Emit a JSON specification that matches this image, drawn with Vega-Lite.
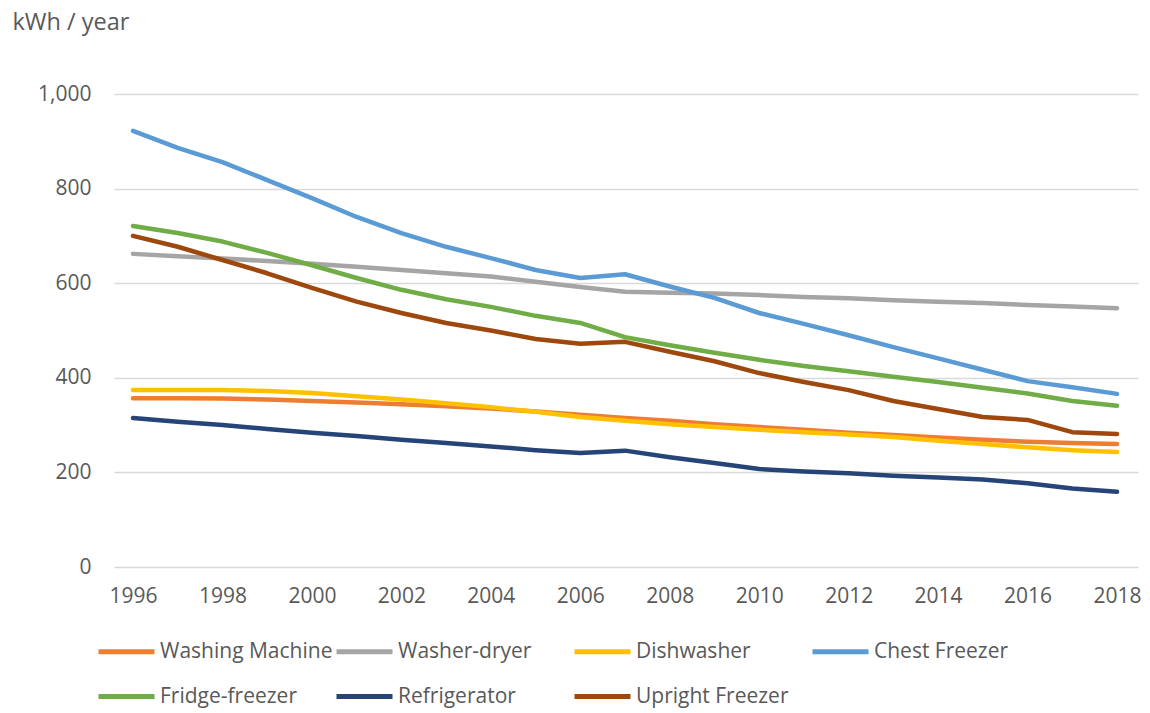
{
  "$schema": "https://vega.github.io/schema/vega-lite/v6.json",
  "width": 1024,
  "height": 473,
  "autosize": {"type": "none"},
  "padding": {"left": 114, "top": 94, "right": 12, "bottom": 146},
  "background": "white",
  "config": {
    "view": {"stroke": null},
    "font": "Open Sans"
  },
  "data": {
    "values": [
      {"series": "Washing Machine", "year": 1996, "value": 357}, {"series": "Washing Machine", "year": 1997, "value": 357}, {"series": "Washing Machine", "year": 1998, "value": 356}, {"series": "Washing Machine", "year": 1999, "value": 354}, {"series": "Washing Machine", "year": 2000, "value": 351}, {"series": "Washing Machine", "year": 2001, "value": 348}, {"series": "Washing Machine", "year": 2002, "value": 344}, {"series": "Washing Machine", "year": 2003, "value": 340}, {"series": "Washing Machine", "year": 2004, "value": 335}, {"series": "Washing Machine", "year": 2005, "value": 329}, {"series": "Washing Machine", "year": 2006, "value": 322}, {"series": "Washing Machine", "year": 2007, "value": 315}, {"series": "Washing Machine", "year": 2008, "value": 309}, {"series": "Washing Machine", "year": 2009, "value": 302}, {"series": "Washing Machine", "year": 2010, "value": 296}, {"series": "Washing Machine", "year": 2011, "value": 290}, {"series": "Washing Machine", "year": 2012, "value": 284}, {"series": "Washing Machine", "year": 2013, "value": 279}, {"series": "Washing Machine", "year": 2014, "value": 274}, {"series": "Washing Machine", "year": 2015, "value": 269}, {"series": "Washing Machine", "year": 2016, "value": 265}, {"series": "Washing Machine", "year": 2017, "value": 262}, {"series": "Washing Machine", "year": 2018, "value": 260},
      {"series": "Washer-dryer", "year": 1996, "value": 662}, {"series": "Washer-dryer", "year": 1997, "value": 657}, {"series": "Washer-dryer", "year": 1998, "value": 652}, {"series": "Washer-dryer", "year": 1999, "value": 647}, {"series": "Washer-dryer", "year": 2000, "value": 641}, {"series": "Washer-dryer", "year": 2001, "value": 635}, {"series": "Washer-dryer", "year": 2002, "value": 628}, {"series": "Washer-dryer", "year": 2003, "value": 621}, {"series": "Washer-dryer", "year": 2004, "value": 614}, {"series": "Washer-dryer", "year": 2005, "value": 603}, {"series": "Washer-dryer", "year": 2006, "value": 592}, {"series": "Washer-dryer", "year": 2007, "value": 582}, {"series": "Washer-dryer", "year": 2008, "value": 580}, {"series": "Washer-dryer", "year": 2009, "value": 578}, {"series": "Washer-dryer", "year": 2010, "value": 575}, {"series": "Washer-dryer", "year": 2011, "value": 571}, {"series": "Washer-dryer", "year": 2012, "value": 568}, {"series": "Washer-dryer", "year": 2013, "value": 564}, {"series": "Washer-dryer", "year": 2014, "value": 561}, {"series": "Washer-dryer", "year": 2015, "value": 558}, {"series": "Washer-dryer", "year": 2016, "value": 554}, {"series": "Washer-dryer", "year": 2017, "value": 551}, {"series": "Washer-dryer", "year": 2018, "value": 547},
      {"series": "Dishwasher", "year": 1996, "value": 374}, {"series": "Dishwasher", "year": 1997, "value": 374}, {"series": "Dishwasher", "year": 1998, "value": 374}, {"series": "Dishwasher", "year": 1999, "value": 372}, {"series": "Dishwasher", "year": 2000, "value": 368}, {"series": "Dishwasher", "year": 2001, "value": 361}, {"series": "Dishwasher", "year": 2002, "value": 354}, {"series": "Dishwasher", "year": 2003, "value": 346}, {"series": "Dishwasher", "year": 2004, "value": 338}, {"series": "Dishwasher", "year": 2005, "value": 328}, {"series": "Dishwasher", "year": 2006, "value": 317}, {"series": "Dishwasher", "year": 2007, "value": 309}, {"series": "Dishwasher", "year": 2008, "value": 302}, {"series": "Dishwasher", "year": 2009, "value": 296}, {"series": "Dishwasher", "year": 2010, "value": 290}, {"series": "Dishwasher", "year": 2011, "value": 285}, {"series": "Dishwasher", "year": 2012, "value": 280}, {"series": "Dishwasher", "year": 2013, "value": 275}, {"series": "Dishwasher", "year": 2014, "value": 267}, {"series": "Dishwasher", "year": 2015, "value": 260}, {"series": "Dishwasher", "year": 2016, "value": 253}, {"series": "Dishwasher", "year": 2017, "value": 247}, {"series": "Dishwasher", "year": 2018, "value": 243},
      {"series": "Chest Freezer", "year": 1996, "value": 922}, {"series": "Chest Freezer", "year": 1997, "value": 886}, {"series": "Chest Freezer", "year": 1998, "value": 856}, {"series": "Chest Freezer", "year": 1999, "value": 818}, {"series": "Chest Freezer", "year": 2000, "value": 780}, {"series": "Chest Freezer", "year": 2001, "value": 740}, {"series": "Chest Freezer", "year": 2002, "value": 706}, {"series": "Chest Freezer", "year": 2003, "value": 677}, {"series": "Chest Freezer", "year": 2004, "value": 653}, {"series": "Chest Freezer", "year": 2005, "value": 628}, {"series": "Chest Freezer", "year": 2006, "value": 611}, {"series": "Chest Freezer", "year": 2007, "value": 619}, {"series": "Chest Freezer", "year": 2008, "value": 593}, {"series": "Chest Freezer", "year": 2009, "value": 569}, {"series": "Chest Freezer", "year": 2010, "value": 537}, {"series": "Chest Freezer", "year": 2011, "value": 514}, {"series": "Chest Freezer", "year": 2012, "value": 490}, {"series": "Chest Freezer", "year": 2013, "value": 465}, {"series": "Chest Freezer", "year": 2014, "value": 441}, {"series": "Chest Freezer", "year": 2015, "value": 417}, {"series": "Chest Freezer", "year": 2016, "value": 393}, {"series": "Chest Freezer", "year": 2017, "value": 380}, {"series": "Chest Freezer", "year": 2018, "value": 366},
      {"series": "Fridge-freezer", "year": 1996, "value": 721}, {"series": "Fridge-freezer", "year": 1997, "value": 706}, {"series": "Fridge-freezer", "year": 1998, "value": 688}, {"series": "Fridge-freezer", "year": 1999, "value": 664}, {"series": "Fridge-freezer", "year": 2000, "value": 638}, {"series": "Fridge-freezer", "year": 2001, "value": 611}, {"series": "Fridge-freezer", "year": 2002, "value": 586}, {"series": "Fridge-freezer", "year": 2003, "value": 566}, {"series": "Fridge-freezer", "year": 2004, "value": 550}, {"series": "Fridge-freezer", "year": 2005, "value": 531}, {"series": "Fridge-freezer", "year": 2006, "value": 516}, {"series": "Fridge-freezer", "year": 2007, "value": 486}, {"series": "Fridge-freezer", "year": 2008, "value": 469}, {"series": "Fridge-freezer", "year": 2009, "value": 453}, {"series": "Fridge-freezer", "year": 2010, "value": 438}, {"series": "Fridge-freezer", "year": 2011, "value": 425}, {"series": "Fridge-freezer", "year": 2012, "value": 414}, {"series": "Fridge-freezer", "year": 2013, "value": 402}, {"series": "Fridge-freezer", "year": 2014, "value": 391}, {"series": "Fridge-freezer", "year": 2015, "value": 379}, {"series": "Fridge-freezer", "year": 2016, "value": 367}, {"series": "Fridge-freezer", "year": 2017, "value": 351}, {"series": "Fridge-freezer", "year": 2018, "value": 341},
      {"series": "Refrigerator", "year": 1996, "value": 315}, {"series": "Refrigerator", "year": 1997, "value": 307}, {"series": "Refrigerator", "year": 1998, "value": 300}, {"series": "Refrigerator", "year": 1999, "value": 292}, {"series": "Refrigerator", "year": 2000, "value": 284}, {"series": "Refrigerator", "year": 2001, "value": 277}, {"series": "Refrigerator", "year": 2002, "value": 269}, {"series": "Refrigerator", "year": 2003, "value": 262}, {"series": "Refrigerator", "year": 2004, "value": 255}, {"series": "Refrigerator", "year": 2005, "value": 247}, {"series": "Refrigerator", "year": 2006, "value": 241}, {"series": "Refrigerator", "year": 2007, "value": 246}, {"series": "Refrigerator", "year": 2008, "value": 232}, {"series": "Refrigerator", "year": 2009, "value": 220}, {"series": "Refrigerator", "year": 2010, "value": 207}, {"series": "Refrigerator", "year": 2011, "value": 202}, {"series": "Refrigerator", "year": 2012, "value": 198}, {"series": "Refrigerator", "year": 2013, "value": 193}, {"series": "Refrigerator", "year": 2014, "value": 189}, {"series": "Refrigerator", "year": 2015, "value": 185}, {"series": "Refrigerator", "year": 2016, "value": 177}, {"series": "Refrigerator", "year": 2017, "value": 166}, {"series": "Refrigerator", "year": 2018, "value": 159},
      {"series": "Upright Freezer", "year": 1996, "value": 700}, {"series": "Upright Freezer", "year": 1997, "value": 677}, {"series": "Upright Freezer", "year": 1998, "value": 649}, {"series": "Upright Freezer", "year": 1999, "value": 621}, {"series": "Upright Freezer", "year": 2000, "value": 590}, {"series": "Upright Freezer", "year": 2001, "value": 561}, {"series": "Upright Freezer", "year": 2002, "value": 537}, {"series": "Upright Freezer", "year": 2003, "value": 516}, {"series": "Upright Freezer", "year": 2004, "value": 500}, {"series": "Upright Freezer", "year": 2005, "value": 482}, {"series": "Upright Freezer", "year": 2006, "value": 472}, {"series": "Upright Freezer", "year": 2007, "value": 476}, {"series": "Upright Freezer", "year": 2008, "value": 455}, {"series": "Upright Freezer", "year": 2009, "value": 435}, {"series": "Upright Freezer", "year": 2010, "value": 410}, {"series": "Upright Freezer", "year": 2011, "value": 391}, {"series": "Upright Freezer", "year": 2012, "value": 374}, {"series": "Upright Freezer", "year": 2013, "value": 351}, {"series": "Upright Freezer", "year": 2014, "value": 334}, {"series": "Upright Freezer", "year": 2015, "value": 317}, {"series": "Upright Freezer", "year": 2016, "value": 311}, {"series": "Upright Freezer", "year": 2017, "value": 285}, {"series": "Upright Freezer", "year": 2018, "value": 281}
    ]
  },
  "mark": {"type": "line", "strokeWidth": 4.5, "strokeCap": "round", "strokeJoin": "round"},
  "encoding": {
    "x": {
      "field": "year",
      "type": "quantitative",
      "scale": {"domain": [1995.575, 2018.469], "nice": false, "zero": false},
      "axis": {
        "values": [1996, 1998, 2000, 2002, 2004, 2006, 2008, 2010, 2012, 2014, 2016, 2018],
        "format": "d",
        "title": null,
        "grid": false,
        "domain": false,
        "ticks": false,
        "labelPadding": 18,
        "labelFontSize": 21,
        "labelColor": "#595959",
        "labelFont": "Open Sans"
      }
    },
    "y": {
      "field": "value",
      "type": "quantitative",
      "scale": {"domain": [0, 1000], "nice": false},
      "axis": {
        "values": [0, 200, 400, 600, 800, 1000],
        "format": ",d",
        "title": "kWh / year",
        "titleAngle": 0,
        "titleAlign": "left",
        "titleBaseline": "middle",
        "titleX": -102,
        "titleY": -72,
        "titleFontSize": 23.5,
        "titleFontWeight": "normal",
        "titleColor": "#595959",
        "titleFont": "Open Sans",
        "grid": true,
        "gridColor": "#D9D9D9",
        "gridWidth": 1.3,
        "domain": false,
        "ticks": false,
        "labelPadding": 23,
        "labelFontSize": 21,
        "labelColor": "#595959",
        "labelFont": "Open Sans"
      }
    },
    "color": {
      "field": "series",
      "type": "nominal",
      "sort": ["Washing Machine", "Washer-dryer", "Dishwasher", "Chest Freezer", "Fridge-freezer", "Refrigerator", "Upright Freezer"],
      "scale": {
        "domain": ["Washing Machine", "Washer-dryer", "Dishwasher", "Chest Freezer", "Fridge-freezer", "Refrigerator", "Upright Freezer"],
        "range": ["#ED7D31", "#A5A5A5", "#FFC000", "#5B9BD5", "#70AD47", "#264478", "#9E480E"]
      },
      "legend": {
        "title": null,
        "orient": "none",
        "legendX": -18,
        "legendY": 527,
        "direction": "horizontal",
        "columns": 4,
        "gridAlign": "all",
        "columnPadding": -7,
        "rowPadding": 4,
        "symbolType": "stroke",
        "symbolSize": 3136,
        "symbolStrokeWidth": 5,
        "labelOffset": 3,
        "labelFontSize": 21,
        "labelColor": "#595959",
        "labelFont": "Open Sans",
        "labelLimit": 400
      }
    }
  }
}
